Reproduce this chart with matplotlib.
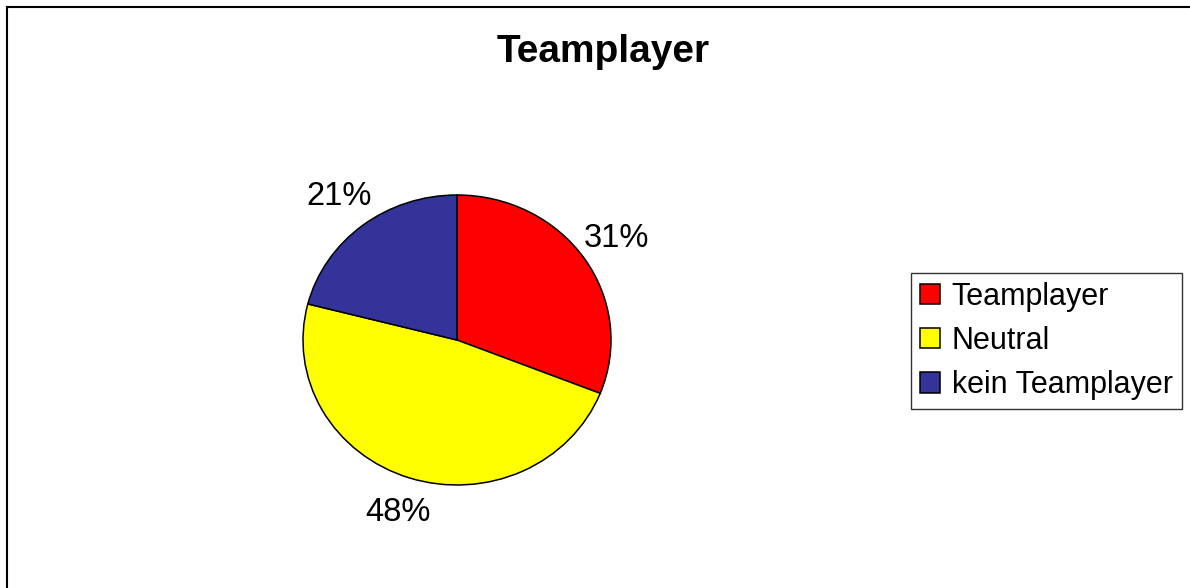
import matplotlib.pyplot as plt
from matplotlib.patches import Rectangle

# data
categories = ["Teamplayer", "Neutral", "kein Teamplayer"]
shares = [31, 48, 21]
colors = ["#FF0000", "#FFFF00", "#333399"]

plt.rcParams['font.family'] = ['Liberation Sans', 'DejaVu Sans']

W, H = 1190, 588
fig = plt.figure(figsize=(W / 100, H / 100), dpi=100)

# outer chart border (cropped on right/bottom)
fig.patches.append(Rectangle((7 / W, -0.02), 1.2, (H - 7) / H + 0.02,
                             transform=fig.transFigure, fill=False,
                             edgecolor="black", linewidth=1.5))

# pie is slightly wider than tall in the reference
ax = fig.add_axes([303 / W, 103 / H, 308 / W, 290 / H])
wedges, texts = ax.pie(shares, colors=colors, startangle=90, counterclock=False,
                       labels=[f"{s}%" for s in shares], labeldistance=1.25,
                       wedgeprops=dict(edgecolor="black", linewidth=1.1),
                       textprops=dict(fontsize=23.5))
for t in texts:
    t.set_ha("center")
    t.set_va("center")
ax.set_aspect("auto")
ax.set_xlim(-1, 1)
ax.set_ylim(-1, 1)

fig.text(603 / W, 1 - 52 / H, "Teamplayer", ha="center", va="center",
         fontsize=28, fontweight="bold")

leg = fig.legend(wedges, categories, loc="center left",
                 bbox_to_anchor=(911 / W, 1 - 341 / H), fontsize=22,
                 frameon=True, fancybox=False, shadow=False,
                 handlelength=0.65, handleheight=0.65, handletextpad=0.38,
                 labelspacing=0.46, borderpad=0.3, borderaxespad=0)
leg.get_frame().set_edgecolor("black")
leg.get_frame().set_linewidth(1.0)

fig.savefig("out.png", dpi=100, facecolor="white")
